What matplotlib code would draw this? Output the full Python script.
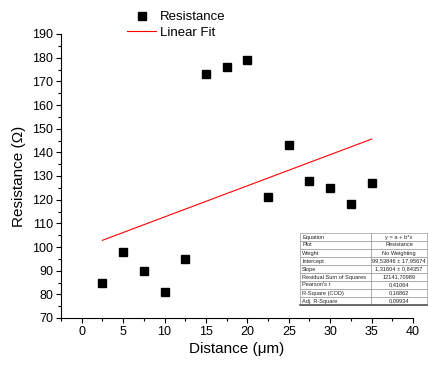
import numpy as np
import matplotlib
matplotlib.use("Agg")
import matplotlib.pyplot as plt
from matplotlib.ticker import MultipleLocator

plt.rcParams['font.family'] = ['Liberation Sans', 'DejaVu Sans']

distance = [2.5, 5, 7.5, 10, 12.5, 15, 17.5, 20, 22.5, 25, 27.5, 30, 32.5, 35]
resistance = [85, 98, 90, 81, 95, 173, 176, 179, 121, 143, 128, 125, 118, 127]

fit_intercept = 99.53846
fit_slope = 1.31604

table_labels = ["Equation", "Plot", "Weight", "Intercept", "Slope",
                "Residual Sum of Squares", "Pearson's r", "R-Square (COD)",
                "Adj. R-Square"]
table_values = ["y = a + b*x", "Resistance", "No Weighting",
                "99,53846 ± 17,95674", "1,31604 ± 0,84357", "12141,70989",
                "0,41064", "0,16862", "0,09934"]

W, H = 428, 365
fig = plt.figure(figsize=(W / 100, H / 100), dpi=100)
ax = fig.add_axes([61 / W, 1 - 318 / H, (413 - 61) / W, (318 - 34) / H])

ax.plot(distance, resistance, linestyle='none', marker='s', markersize=5.2,
        color='black', label='Resistance')
xf = np.array([min(distance), max(distance)])
ax.plot(xf, fit_intercept + fit_slope * xf, color='#ff0000', lw=0.8,
        label='Linear Fit')

ax.set_xlim(-2.5, 40)
ax.set_ylim(70, 190)
ax.xaxis.set_major_locator(MultipleLocator(5))
ax.xaxis.set_minor_locator(MultipleLocator(2.5))
ax.yaxis.set_major_locator(MultipleLocator(10))
ax.yaxis.set_minor_locator(MultipleLocator(5))
for s in ['top', 'right']:
    ax.spines[s].set_visible(False)
for s in ['left', 'bottom']:
    ax.spines[s].set_linewidth(0.8)
ax.tick_params(which='major', direction='out', length=3.8, width=0.8,
               labelsize=9, pad=2)
ax.tick_params(which='minor', direction='out', length=2.2, width=0.8)

ax.set_xlabel('Distance (μm)', fontsize=11, labelpad=3)
ax.set_ylabel('Resistance (Ω)', fontsize=11, labelpad=4)

leg = ax.legend(loc='center left', bbox_to_anchor=(127 / W, 1 - 25 / H),
                bbox_transform=fig.transFigure, frameon=False, fontsize=9.5,
                handlelength=2.2, handletextpad=0.3, borderpad=0,
                borderaxespad=0, labelspacing=0.25)

# results table (in figure pixel coordinates -> axes fraction)
tx0, tx1, ty0, ty1 = 300, 427, 233, 305
def ax_frac(px, py):
    return (px - 61) / (413 - 61), (318 - py) / (318 - 34)
bx0, by0 = ax_frac(tx0, ty1)
bx1, by1 = ax_frac(tx1, ty0)
rows = [[a, b] for a, b in zip(table_labels, table_values)]
tbl = ax.table(cellText=rows, bbox=[bx0, by0, bx1 - bx0, by1 - by0],
               colWidths=[0.56, 0.44])
tbl.auto_set_font_size(False)
tbl.set_fontsize(4.1)
tbl.set_clip_on(False)
for (r, c), cell in tbl.get_celld().items():
    cell.set_edgecolor('#9a9a9a')
    cell.set_linewidth(0.5)
    cell.set_facecolor('white')
    cell.PAD = 0.03
    cell.get_text().set_color('#222222')
    if c == 0:
        cell.get_text().set_ha('left')
        cell._loc = 'left'
    else:
        cell.get_text().set_ha('center')
        cell._loc = 'center'
# shadow line at bottom
ax.plot([bx0, bx1], [by0, by0], transform=ax.transAxes, color='#555555',
        lw=1.2, clip_on=False)

fig.savefig('out.png', dpi=100)
